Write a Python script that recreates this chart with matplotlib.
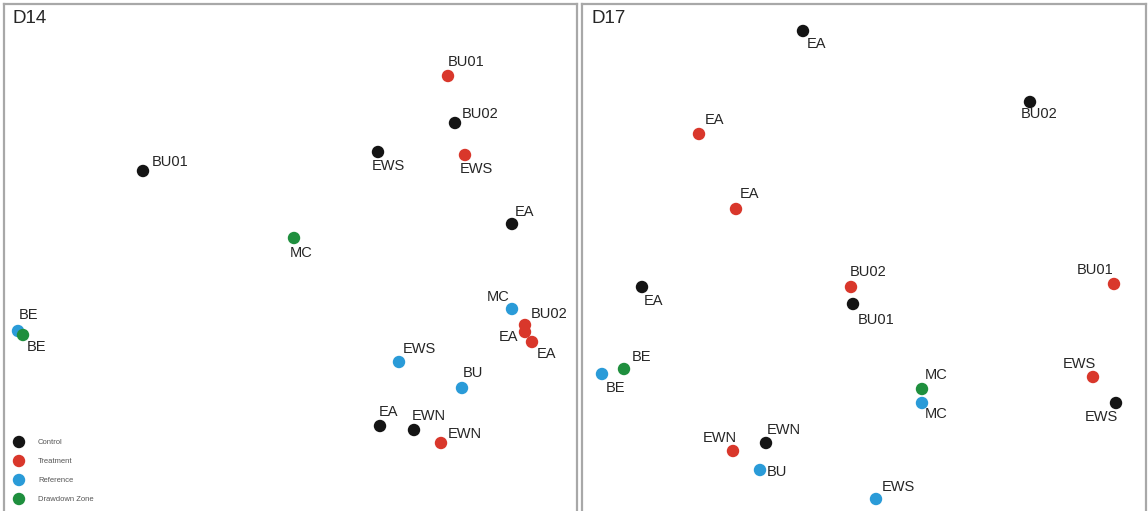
import matplotlib
matplotlib.use("Agg")
import matplotlib.pyplot as plt

plt.rcParams["font.family"] = ["Liberation Sans", "DejaVu Sans"]

COLORS = {
    "Control": "#141414",
    "Treatment": "#d9372b",
    "Reference": "#2a9bd8",
    "Drawdown Zone": "#1f8f3e",
}
GROUPS = ["Control", "Treatment", "Reference", "Drawdown Zone"]

# ordination scores per panel (axis 1, axis 2), one list per group
D14_SITES = {
    "Control": ["BU01", "BU02", "EWS", "EA", "EA", "EWN"],
    "Treatment": ["BU01", "EWS", "BU02", "EA", "EA", "EWN"],
    "Reference": ["BE", "MC", "EWS", "BU"],
    "Drawdown Zone": ["MC", "BE"],
}
D14_X = {
    "Control": [143, 455, 378, 512, 380, 414],
    "Treatment": [448, 465, 525, 525, 532, 441],
    "Reference": [18, 512, 399, 462],
    "Drawdown Zone": [294, 23],
}
D14_Y = {
    "Control": [340, 388, 359, 287, 85, 81],
    "Treatment": [435, 356, 186, 179, 169, 68],
    "Reference": [180, 202, 149, 123],
    "Drawdown Zone": [273, 176],
}

D17_SITES = {
    "Control": ["EA", "BU02", "EA", "BU01", "EWN", "EWS"],
    "Treatment": ["EA", "EA", "BU02", "BU01", "EWS", "EWN"],
    "Reference": ["BE", "MC", "BU", "EWS"],
    "Drawdown Zone": ["BE", "MC"],
}
D17_X = {
    "Control": [803, 1030, 642, 853, 766, 1116],
    "Treatment": [699, 736, 851, 1114, 1093, 733],
    "Reference": [602, 922, 760, 876],
    "Drawdown Zone": [624, 922],
}
D17_Y = {
    "Control": [480, 409, 224, 207, 68, 108],
    "Treatment": [377, 302, 224, 227, 134, 60],
    "Reference": [137, 108, 41, 12],
    "Drawdown Zone": [142, 122],
}

# label offsets in pixels (label centre relative to the point)
D14_OFFSETS = {
    "Control": [(27, 9), (25, 9), (10, -14), (12, 12), (9, 14), (15, 14)],
    "Treatment": [(18, 14), (11, -14), (24, 11), (-16, -5), (14, -12), (24, 9)],
    "Reference": [(10, 16), (-14, 12), (20, 13), (11, 15)],
    "Drawdown Zone": [(7, -15), (14, -12)],
}
D17_OFFSETS = {
    "Control": [(13, -13), (9, -12), (11, -14), (23, -16), (18, 13), (-15, -14)],
    "Treatment": [(15, 14), (13, 15), (17, 15), (-19, 14), (-14, 13), (-13, 13)],
    "Reference": [(13, -14), (14, -11), (17, -2), (22, 12)],
    "Drawdown Zone": [(17, 12), (14, 14)],
}

W, H = 1148, 511
fig = plt.figure(figsize=(W / 100, H / 100), dpi=100)
fig.patch.set_facecolor("white")


def panel(left, right, title, sites, xs, ys, offsets):
    ax = fig.add_axes([left / W, 0, (right - left) / W, (H - 4) / H])
    ax.set_xlim(left, right)
    ax.set_ylim(0, H - 4)
    ax.set_xticks([])
    ax.set_yticks([])
    for side in ("left", "right", "top"):
        ax.spines[side].set_color("#a8a8a8")
        ax.spines[side].set_linewidth(1.6)
    ax.spines["bottom"].set_visible(False)
    for g in GROUPS:
        ax.scatter(xs[g], ys[g], s=80, color=COLORS[g], edgecolors="none",
                   zorder=3)
        for name, x, y, (dx, dy) in zip(sites[g], xs[g], ys[g], offsets[g]):
            ax.annotate(name, (x, y), xytext=(dx, dy), textcoords="offset pixels",
                        ha="center", va="center", fontsize=10.5, color="#262626",
                        zorder=4)
    ax.text(left + 9, H - 19, title, fontsize=13.5, color="#262626",
            ha="left", va="center")
    return ax


ax1 = panel(4, 577, "D14", D14_SITES, D14_X, D14_Y, D14_OFFSETS)
ax2 = panel(582, 1146, "D17", D17_SITES, D17_X, D17_Y, D17_OFFSETS)

# small legend in the lower-left corner of D14
for i, g in enumerate(GROUPS):
    y = H - 442 - 19 * i
    ax1.scatter([19], [y], s=80, color=COLORS[g], edgecolors="none", zorder=3)
    ax1.text(38, y, g, fontsize=5.5, color="#555555", ha="left", va="center")

fig.savefig("out.png", dpi=100, facecolor="white")
